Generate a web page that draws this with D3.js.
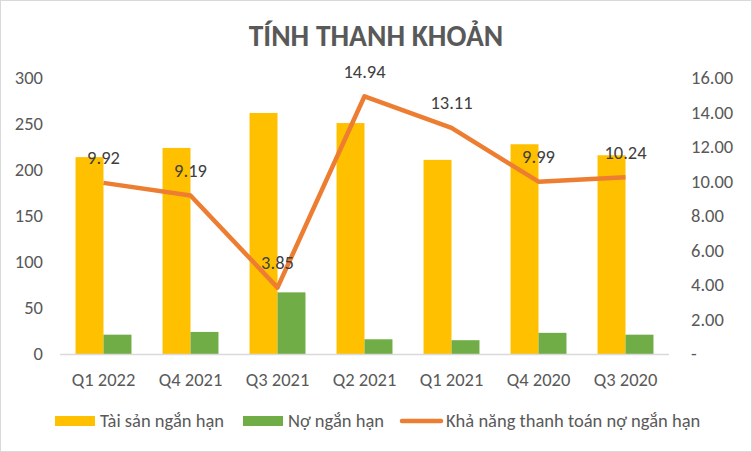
<!DOCTYPE html>
<html><head><meta charset="utf-8">
<script src="https://cdn.jsdelivr.net/npm/d3@7"></script>
<style>html,body{margin:0;padding:0;background:#fff;}svg{display:block;}</style>
</head><body>
<svg id="c" width="752" height="452"></svg>
<script>
const categories = ["Q1 2022","Q4 2021","Q3 2021","Q2 2021","Q1 2021","Q4 2020","Q3 2020"];
const taiSan = [214, 224, 262, 251, 211, 228, 216];
const noNgan = [21, 24, 67, 16, 15, 23, 21];
const khaNang = [9.92, 9.19, 3.85, 14.94, 13.11, 9.99, 10.24];
const leftTicks = [0, 50, 100, 150, 200, 250, 300];
const rightTicks = [0, 2, 4, 6, 8, 10, 12, 14, 16];
const seriesNames = ["Tài sản ngắn hạn", "Nợ ngắn hạn", "Khả năng thanh toán nợ ngắn hạn"];
const title = "TÍNH THANH KHOẢN";

const FONT = "Carlito, Calibri, 'Liberation Sans Narrow', 'Open Sans', sans-serif";
const svg = d3.select("#c");
svg.append("rect").attr("x",0.5).attr("y",0.5).attr("width",751).attr("height",451)
  .attr("fill","#fff").attr("stroke","#d9d9d9");

const L = 60, R = 669, T = 78, B = 354;
const x = d3.scaleBand().domain(categories).range([L, R]).paddingInner(0.357).paddingOuter(0.1785);
const xc = d3.scaleBand().domain(categories).range([L, R]);
const yL = d3.scaleLinear().domain([0, 300]).range([B, T]);
const yR = d3.scaleLinear().domain([0, 16]).range([B, T]);
const sub = d3.scaleBand().domain([0,1]).range([0, x.bandwidth()]);

svg.append("text").attr("x",376).attr("y",46).attr("text-anchor","middle")
  .attr("font-family",FONT).attr("font-weight","bold").attr("font-size",29.5)
  .attr("fill","#595959").text(title);

// bars
svg.append("g").selectAll("rect").data(categories).join("rect")
  .attr("x", d => x(d) + sub(0)).attr("width", sub.bandwidth())
  .attr("y", (d,i) => yL(taiSan[i])).attr("height", (d,i) => yL(0) - yL(taiSan[i]))
  .attr("fill","#ffc000");
svg.append("g").selectAll("rect").data(categories).join("rect")
  .attr("x", d => x(d) + sub(1)).attr("width", sub.bandwidth())
  .attr("y", (d,i) => yL(noNgan[i])).attr("height", (d,i) => yL(0) - yL(noNgan[i]))
  .attr("fill","#70ad47");

// baseline
svg.append("line").attr("x1",L).attr("x2",R).attr("y1",B+0.5).attr("y2",B+0.5)
  .attr("stroke","#d9d9d9").attr("stroke-width",1.5);

// axes
const axL = d3.axisLeft(yL).tickValues(leftTicks).tickSize(0).tickPadding(0);
const gL = svg.append("g").attr("transform",`translate(${43},0)`).call(axL);
const axR = d3.axisRight(yR).tickValues(rightTicks).tickSize(0).tickPadding(0)
  .tickFormat(d => d === 0 ? "-" : d3.format(".2f")(d));
const gR = svg.append("g").attr("transform",`translate(${691},0)`).call(axR);
const axB = d3.axisBottom(xc).tickSize(0).tickPadding(0);
const gB = svg.append("g").attr("transform",`translate(0,${373})`).call(axB);
[gL,gR,gB].forEach(g => {
  g.select(".domain").remove();
  g.selectAll("text").attr("font-family",FONT).attr("font-size",18.5).attr("fill","#595959");
});

// line
const cx = d => xc(d) + xc.bandwidth()/2;
const line = d3.line().x((d,i) => cx(categories[i])).y(d => yR(d));
svg.append("path").datum(khaNang).attr("d", line).attr("fill","none")
  .attr("stroke","#ed7d31").attr("stroke-width",4.5).attr("stroke-linejoin","round");

svg.append("g").selectAll("text").data(khaNang).join("text")
  .attr("x",(d,i) => cx(categories[i])).attr("y", d => yR(d) - 25).attr("dy","0.35em")
  .attr("text-anchor","middle").attr("font-family",FONT).attr("font-size",18.5)
  .attr("fill","#404040").text(d => d3.format(".2f")(d));

// legend
const lg = svg.append("g");
const items = [
  {x:55, type:"rect", color:"#ffc000", tx:100},
  {x:243, type:"rect", color:"#70ad47", tx:288},
  {x:400, type:"line", color:"#ed7d31", tx:446}
];
items.forEach((it,i) => {
  if (it.type === "rect") {
    lg.append("rect").attr("x",it.x).attr("y",416).attr("width",40).attr("height",10).attr("fill",it.color);
  } else {
    lg.append("line").attr("x1",it.x+2).attr("x2",it.x+41).attr("y1",421).attr("y2",421)
      .attr("stroke",it.color).attr("stroke-width",4.5).attr("stroke-linecap","round");
  }
  lg.append("text").attr("x",it.tx).attr("y",421).attr("dy","0.35em")
    .attr("font-family",FONT).attr("font-size",18.5).attr("fill","#595959").text(seriesNames[i]);
});
</script>
</body></html>
